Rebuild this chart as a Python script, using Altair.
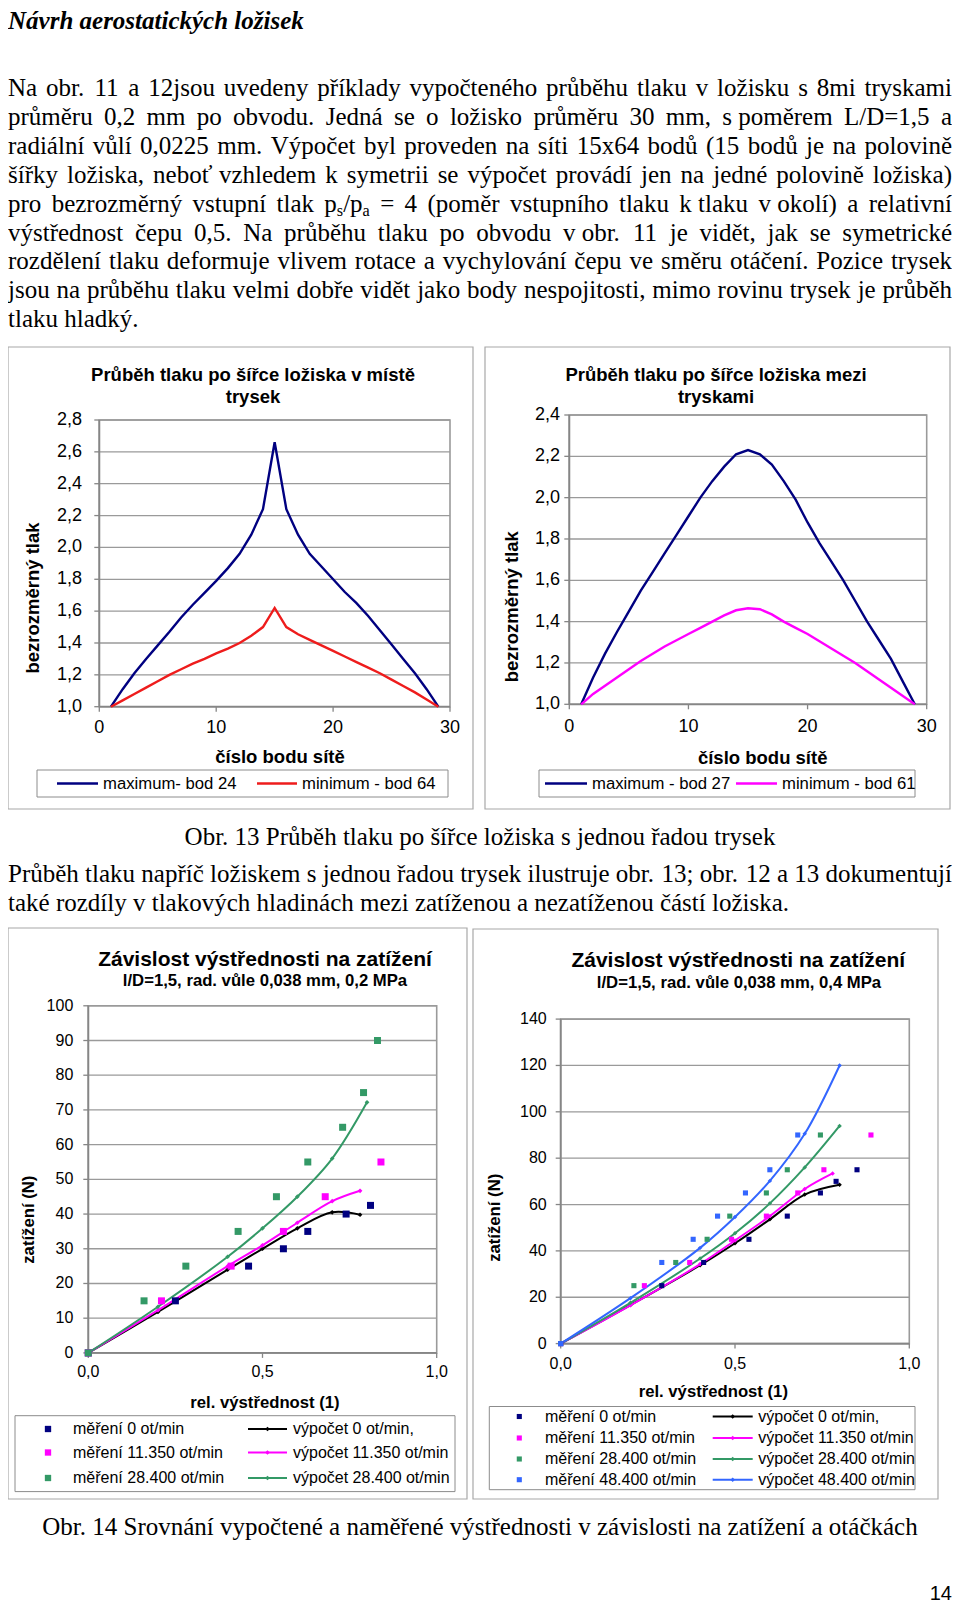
import re
import unicodedata
import altair as alt
import pandas as pd

# ---------------------------------------------------------------- data
# Obr. 13 vlevo: průběh tlaku po šířce ložiska v místě trysek
o13a_x = list(range(1, 30))
o13a_max = [1.00, 1.11, 1.21, 1.30, 1.385, 1.47, 1.56, 1.64, 1.715, 1.79, 1.87, 1.96, 2.08, 2.24, 2.66,
            2.24, 2.08, 1.96, 1.88, 1.80, 1.72, 1.65, 1.57, 1.48, 1.39, 1.30, 1.21, 1.11, 1.00]
o13a_min = [1.00, 1.04, 1.08, 1.12, 1.16, 1.20, 1.235, 1.27, 1.30, 1.335, 1.365, 1.40, 1.445, 1.50, 1.62,
            1.50, 1.455, 1.42, 1.385, 1.35, 1.315, 1.28, 1.245, 1.21, 1.17, 1.13, 1.09, 1.045, 1.00]
# Obr. 13 vpravo: mezi tryskami
o13b_x = list(range(1, 30))
o13b_max = [1.00, 1.13, 1.245, 1.35, 1.45, 1.55, 1.64, 1.73, 1.82, 1.91, 2.00, 2.08, 2.15, 2.21, 2.23,
            2.21, 2.16, 2.08, 1.99, 1.88, 1.78, 1.69, 1.60, 1.50, 1.40, 1.31, 1.22, 1.11, 1.00]
o13b_min = [1.00, 1.05, 1.09, 1.13, 1.17, 1.21, 1.245, 1.28, 1.31, 1.34, 1.37, 1.40, 1.43, 1.455, 1.465,
            1.46, 1.435, 1.40, 1.37, 1.34, 1.305, 1.27, 1.235, 1.20, 1.16, 1.12, 1.08, 1.04, 1.00]

# Obr. 14 vlevo (0,2 MPa)
a_m0_x = [0, 0.25, 0.46, 0.56, 0.63, 0.74, 0.81]
a_m0_y = [0, 15, 25, 30, 35, 40, 42.5]
a_m1_x = [0, 0.21, 0.41, 0.56, 0.68, 0.84]
a_m1_y = [0, 15, 25, 35, 45, 55]
a_m2_x = [0, 0.16, 0.28, 0.43, 0.54, 0.63, 0.73, 0.79, 0.83]
a_m2_y = [0, 15, 25, 35, 45, 55, 65, 75, 90]
a_c0_x = [0, 0.2, 0.4, 0.5, 0.6, 0.7, 0.78]
a_c0_y = [0, 11.8, 24.0, 30.0, 35.9, 40.5, 39.8]
a_c1_x = [0, 0.2, 0.4, 0.5, 0.6, 0.7, 0.78]
a_c1_y = [0, 12.3, 25.0, 31.0, 37.5, 43.7, 46.7]
a_c2_x = [0, 0.2, 0.4, 0.5, 0.6, 0.7, 0.8]
a_c2_y = [0, 13.3, 27.7, 35.9, 45.0, 56.0, 72.2]

# Obr. 14 vpravo (0,4 MPa)
b_m0_x = [0, 0.29, 0.41, 0.54, 0.65, 0.745, 0.79, 0.85]
b_m0_y = [0, 25, 35, 45, 55, 65, 70, 75]
b_m1_x = [0, 0.24, 0.37, 0.49, 0.59, 0.68, 0.755, 0.89]
b_m1_y = [0, 25, 35, 45, 55, 65, 75, 90]
b_m2_x = [0, 0.21, 0.33, 0.42, 0.485, 0.59, 0.65, 0.745]
b_m2_y = [0, 25, 35, 45, 55, 65, 75, 90]
b_m3_x = [0, 0.29, 0.38, 0.45, 0.53, 0.60, 0.68]
b_m3_y = [0, 35, 45, 55, 65, 75, 90]
b_c0_x = [0, 0.2, 0.4, 0.5, 0.6, 0.7, 0.8]
b_c0_y = [0, 16.6, 33.8, 43.3, 53.6, 64.3, 68.5]
b_c1_x = [0, 0.2, 0.4, 0.5, 0.6, 0.7, 0.78]
b_c1_y = [0, 16.5, 34.3, 44.5, 55.0, 66.7, 73.4]
b_c2_x = [0, 0.2, 0.4, 0.5, 0.6, 0.7, 0.8]
b_c2_y = [0, 17.6, 36.7, 47.6, 60.5, 76.0, 93.9]
b_c3_x = [0, 0.2, 0.4, 0.5, 0.6, 0.7, 0.8]
b_c3_y = [0, 19.6, 41.3, 54.6, 70.2, 90.5, 120.0]

# tick values
t13a_y = [1.0, 1.2, 1.4, 1.6, 1.8, 2.0, 2.2, 2.4, 2.6, 2.8]
t13b_y = [1.0, 1.2, 1.4, 1.6, 1.8, 2.0, 2.2, 2.4]
t13_x = [0, 10, 20, 30]
t14a_y = [0, 10, 20, 30, 40, 50, 60, 70, 80, 90, 100]
t14b_y = [0, 20, 40, 60, 80, 100, 120, 140]
t14_x = [0.0, 0.5, 1.0]

# texts
head_title = "Návrh aerostatických ložisek"
par1 = [
    "Na obr. 11 a 12jsou uvedeny příklady vypočteného průběhu tlaku v ložisku s 8mi tryskami",
    "průměru 0,2 mm po obvodu. Jedná se o ložisko průměru 30 mm, s\u00a0poměrem L/D=1,5 a",
    "radiální vůlí 0,0225 mm. Výpočet byl proveden na síti 15x64 bodů (15 bodů je na polovině",
    "šířky ložiska, neboť vzhledem k symetrii se výpočet provádí jen na jedné polovině ložiska)",
    "pro bezrozměrný vstupní tlak p{s}/p{a} = 4 (poměr vstupního tlaku k\u00a0tlaku v\u00a0okolí) a relativní",
    "výstřednost čepu 0,5. Na průběhu tlaku po obvodu v\u00a0obr. 11 je vidět, jak se symetrické",
    "rozdělení tlaku deformuje vlivem rotace a vychylování čepu ve směru otáčení. Pozice trysek",
    "jsou na průběhu tlaku velmi dobře vidět jako body nespojitosti, mimo rovinu trysek je průběh",
    "tlaku hladký.",
]
par2 = [
    "Průběh tlaku napříč ložiskem s jednou řadou trysek ilustruje obr. 13; obr. 12 a 13 dokumentují",
    "také rozdíly v tlakových hladinách mezi zatíženou a nezatíženou částí ložiska.",
]
cap13 = "Obr. 13 Průběh tlaku po šířce ložiska s jednou řadou trysek"
cap14 = "Obr. 14 Srovnání vypočtené a naměřené výstřednosti v závislosti na zatížení a otáčkách"
page_no = "14"

# ---------------------------------------------------------------- layout helpers
OX = OY = 8
W, H = 944, 1597
SANS = "Liberation Sans"
SERIF = "Liberation Serif"
NAVY, RED, MAG, GREEN, BLUE, BLACK = "#000080", "#ee1c1c", "#ff00ff", "#339966", "#3366ff", "#000000"
GRID, AXIS, FRAME, LBOX = "#9a9a9a", "#868686", "#a8a8a8", "#8c8c8c"


def P(x):
    return round(min(max(x - OX, 0), W), 2)


def Q(y):
    return round(y - OY, 2)


def one(**kw):
    return pd.DataFrame({k: [v] for k, v in kw.items()})


def box(x0, y0, x1, y1, stroke, sw=1.0, fill="white"):
    return alt.Chart(one(a=P(x0), b=P(x1), c=Q(y0), d=Q(y1))).mark_rect(
        fill=fill, stroke=stroke, strokeWidth=sw).encode(
        x=alt.X("a:Q", scale=None), x2="b:Q", y=alt.Y("c:Q", scale=None), y2="d:Q")


def labels(rows, **mk):
    d = pd.DataFrame(rows, columns=["x", "y", "t"])
    d["x"] = d["x"].map(P)
    d["y"] = d["y"].map(Q)
    return alt.Chart(d).mark_text(**mk).encode(
        x=alt.X("x:Q", scale=None), y=alt.Y("y:Q", scale=None), text="t:N")


def fmt1(v):
    return f"{v:.1f}".replace(".", ",")


def fmt0(v):
    return f"{v:g}"


def excel(xd, xr, yd, yr, yticks, xticks, ylab_right, xlab_y, tick_fs, yfmt, xfmt):
    sx = alt.Scale(domain=xd, range=[P(xr[0]), P(xr[1])], nice=False, zero=False)
    sy = alt.Scale(domain=yd, range=[Q(yr[0]), Q(yr[1])], nice=False, zero=False)
    L = [box(xr[0], yr[1], xr[1], yr[0], GRID, 1.6)]
    gy = pd.DataFrame({"v": yticks, "t": [yfmt(v) for v in yticks]})
    gx = pd.DataFrame({"v": xticks, "t": [xfmt(v) for v in xticks]})
    L.append(alt.Chart(gy).mark_rule(color=GRID, strokeWidth=1.3).encode(
        y=alt.Y("v:Q", scale=sy, axis=None), x=alt.value(P(xr[0])), x2=alt.value(P(xr[1]))))
    L.append(alt.Chart(gy).mark_rule(color=AXIS, strokeWidth=1.3).encode(
        y=alt.Y("v:Q", scale=sy, axis=None), x=alt.value(P(xr[0]) - 5), x2=alt.value(P(xr[0]))))
    L.append(alt.Chart(gx).mark_rule(color=AXIS, strokeWidth=1.3).encode(
        x=alt.X("v:Q", scale=sx, axis=None), y=alt.value(Q(yr[0])), y2=alt.value(Q(yr[0]) + 5)))
    axes = pd.DataFrame({"a": [P(xr[0]), P(xr[0])], "b": [P(xr[0]), P(xr[1])],
                         "c": [Q(yr[1]), Q(yr[0])], "d": [Q(yr[0]), Q(yr[0])]})
    L.append(alt.Chart(axes).mark_rule(color=AXIS, strokeWidth=1.8).encode(
        x=alt.X("a:Q", scale=None), x2="b:Q", y=alt.Y("c:Q", scale=None), y2="d:Q"))
    L.append(alt.Chart(gy).mark_text(font=SANS, fontSize=tick_fs, align="right", baseline="middle").encode(
        y=alt.Y("v:Q", scale=sy, axis=None), x=alt.value(P(ylab_right)), text="t:N"))
    L.append(alt.Chart(gx).mark_text(font=SANS, fontSize=tick_fs, align="center", baseline="middle").encode(
        x=alt.X("v:Q", scale=sx, axis=None), y=alt.value(Q(xlab_y)), text="t:N"))
    return sx, sy, L


def sline(sx, sy, xs, ys, color, sw, interp="linear"):
    return alt.Chart(pd.DataFrame({"x": xs, "y": ys})).mark_line(
        color=color, strokeWidth=sw, interpolate=interp).encode(
        x=alt.X("x:Q", scale=sx, axis=None), y=alt.Y("y:Q", scale=sy, axis=None))


def spts(sx, sy, xs, ys, color, shape, size):
    return alt.Chart(pd.DataFrame({"x": xs, "y": ys})).mark_point(
        shape=shape, filled=True, size=size, color=color, opacity=1, strokeWidth=0).encode(
        x=alt.X("x:Q", scale=sx, axis=None), y=alt.Y("y:Q", scale=sy, axis=None))


def leg_lines(rows, sw):
    d = pd.DataFrame(rows, columns=["a", "b", "c", "col"])
    d["a"] = d["a"].map(P)
    d["b"] = d["b"].map(P)
    d["c"] = d["c"].map(Q)
    return alt.Chart(d).mark_rule(strokeWidth=sw).encode(
        x=alt.X("a:Q", scale=None), x2="b:Q", y=alt.Y("c:Q", scale=None),
        color=alt.Color("col:N", scale=None))


def leg_pts(rows, shape, size):
    d = pd.DataFrame(rows, columns=["x", "y", "col"])
    d["x"] = d["x"].map(P)
    d["y"] = d["y"].map(Q)
    return alt.Chart(d).mark_point(shape=shape, filled=True, size=size, opacity=1, strokeWidth=0).encode(
        x=alt.X("x:Q", scale=None), y=alt.Y("y:Q", scale=None), color=alt.Color("col:N", scale=None))


# Times New Roman advance widths (em), Liberation Serif is metric compatible
TW = {" ": .25, "\u00a0": .25, "!": .333, "(": .333, ")": .333, ",": .25, "-": .333, ".": .25,
      "/": .278, ":": .278, ";": .278, "=": .564,
      "A": .722, "B": .667, "C": .667, "D": .722, "E": .611, "F": .556, "G": .722, "H": .722, "I": .333,
      "J": .389, "K": .722, "L": .611, "M": .889, "N": .722, "O": .722, "P": .556, "Q": .722, "R": .667,
      "S": .556, "T": .611, "U": .722, "V": .722, "W": .944, "X": .722, "Y": .722, "Z": .611,
      "a": .444, "b": .5, "c": .444, "d": .5, "e": .444, "f": .333, "g": .5, "h": .5, "i": .278, "j": .278,
      "k": .5, "l": .278, "m": .778, "n": .5, "o": .5, "p": .5, "q": .5, "r": .333, "s": .389, "t": .278,
      "u": .5, "v": .5, "w": .722, "x": .5, "y": .5, "z": .444, "ť": .33}
SUB = 0.65
SUBDY = 4


def cw(c):
    if c in TW:
        return TW[c]
    if c.isdigit():
        return .5
    b = unicodedata.normalize("NFD", c)[0]
    return TW.get(b, .5)


def segs(word):
    out = []
    for m in re.finditer(r"\{([^}]*)\}|([^{]+)", word):
        if m.group(1) is not None:
            out.append((m.group(1), True))
        else:
            out.append((m.group(2), False))
    return out


def seg_w(t, sub, fs):
    return sum(cw(c) for c in t) * fs * (SUB if sub else 1)


def set_line(line, x0, x1, base, fs, justify, left_rows, right_rows):
    words = line.split(" ")
    ws = [sum(seg_w(t, s, fs) for t, s in segs(w)) for w in words]
    gap = (x1 - x0 - sum(ws)) / (len(words) - 1) if (justify and len(words) > 1) else cw(" ") * fs
    x = x0
    for i, (w, wd) in enumerate(zip(words, ws)):
        if justify and i == len(words) - 1 and len(words) > 1:
            right_rows.append((x1, base, w, fs))
            break
        xx = x
        for t, s in segs(w):
            left_rows.append((xx, base + (SUBDY if s else 0), t, fs * (SUB if s else 1)))
            xx += seg_w(t, s, fs)
        x += wd + gap


def body_layer(rows, align):
    d = pd.DataFrame(rows, columns=["x", "y", "t", "s"])
    return alt.Chart(d).mark_text(font=SERIF, align=align, baseline="alphabetic", color="black").encode(
        x=alt.X("x:Q", scale=None), y=alt.Y("y:Q", scale=None), text="t:N",
        size=alt.Size("s:Q", scale=None))


layers = []

# ---------------------------------------------------------------- page text
FS = 25
lrows, rrows = [], []
c1 = [88, 117, 146, 175, 204, 232.5, 261, 290, 319]
for i, ln in enumerate(par1):
    set_line(ln, 0, W, Q(c1[i] + 8), FS, i < len(par1) - 1, lrows, rrows)
c2 = [874, 903]
for i, ln in enumerate(par2):
    set_line(ln, 0, W, Q(c2[i] + 8), FS, i < len(par2) - 1, lrows, rrows)
layers.append(body_layer(lrows, "left"))
layers.append(body_layer(rrows, "right"))
layers.append(labels([(8, 29, head_title)], font=SERIF, fontSize=25, fontWeight="bold",
                     fontStyle="italic", align="left", baseline="alphabetic"))
layers.append(labels([(480, 845, cap13), (480, 1535, cap14)], font=SERIF, fontSize=25,
                     align="center", baseline="alphabetic"))
layers.append(labels([(952, 1600, page_no)], font="Liberation Sans Narrow, Liberation Sans", fontSize=20,
                     align="right", baseline="alphabetic"))

# ---------------------------------------------------------------- Obr. 13 left
layers.append(box(8, 347, 473, 809, FRAME, 1.2))
sx, sy, L = excel([0, 30], [99.3, 450], [1.0, 2.8], [706.7, 420], t13a_y, t13_x, 82, 728, 18, fmt1, fmt0)
layers += L
layers.append(sline(sx, sy, o13a_x, o13a_max, NAVY, 2.4))
layers.append(sline(sx, sy, o13a_x, o13a_min, RED, 2.4))
layers.append(labels([(253, 375, "Průběh tlaku po šířce ložiska v místě"), (253, 397, "trysek"),
                      (280, 757, "číslo bodu sítě")],
                     font=SANS, fontSize=18.5, fontWeight="bold", align="center", baseline="middle"))
layers.append(labels([(33, 598, "bezrozměrný tlak")], font=SANS, fontSize=18.5, fontWeight="bold",
                     align="center", baseline="middle", angle=270))
layers.append(box(37, 770, 448, 797, LBOX, 1.0))
layers.append(leg_lines([(57, 98, 783.5, NAVY), (257, 297, 783.5, RED)], 2.4))
layers.append(labels([(103, 783.5, "maximum- bod 24"), (302, 783.5, "minimum - bod 64")],
                     font=SANS, fontSize=16.7, align="left", baseline="middle"))

# ---------------------------------------------------------------- Obr. 13 right
layers.append(box(485, 347, 950, 809, FRAME, 1.2))
sx, sy, L = excel([0, 30], [569.3, 926.7], [1.0, 2.4], [704.3, 415], t13b_y, t13_x, 560, 726.7, 18, fmt1, fmt0)
layers += L
layers.append(sline(sx, sy, o13b_x, o13b_max, NAVY, 2.4))
layers.append(sline(sx, sy, o13b_x, o13b_min, MAG, 2.4))
layers.append(labels([(716, 375, "Průběh tlaku po šířce ložiska mezi"), (716, 397, "tryskami"),
                      (762.7, 758, "číslo bodu sítě")],
                     font=SANS, fontSize=18.5, fontWeight="bold", align="center", baseline="middle"))
layers.append(labels([(511.7, 606.7, "bezrozměrný tlak")], font=SANS, fontSize=18.5, fontWeight="bold",
                     align="center", baseline="middle", angle=270))
layers.append(box(539, 770, 915, 797, LBOX, 1.0))
layers.append(leg_lines([(545, 587, 783.5, NAVY), (736, 777, 783.5, MAG)], 2.4))
layers.append(labels([(592, 783.5, "maximum - bod 27"), (782, 783.5, "minimum - bod 61")],
                     font=SANS, fontSize=16.7, align="left", baseline="middle"))

# ---------------------------------------------------------------- Obr. 14 left
layers.append(box(8, 928, 467, 1499, FRAME, 1.2))
sx, sy, L = excel([0, 1], [88.3, 436.7], [0, 100], [1352.9, 1005.8], t14a_y, t14_x, 73.3, 1372, 16, fmt0, fmt1)
layers += L
for xs, ys, col in [(a_c0_x, a_c0_y, BLACK), (a_c1_x, a_c1_y, MAG), (a_c2_x, a_c2_y, GREEN)]:
    layers.append(sline(sx, sy, xs, ys, col, 2, "catmull-rom"))
    layers.append(spts(sx, sy, xs, ys, col, "diamond", 22))
for xs, ys, col in [(a_m0_x, a_m0_y, NAVY), (a_m1_x, a_m1_y, MAG), (a_m2_x, a_m2_y, GREEN)]:
    layers.append(spts(sx, sy, xs, ys, col, "square", 49))
layers.append(labels([(265, 960, "Závislost výstřednosti na zatížení")], font=SANS, fontSize=21,
                     fontWeight="bold", align="center", baseline="middle"))
layers.append(labels([(265, 981, "l/D=1,5, rad. vůle 0,038 mm, 0,2 MPa"), (265, 1402.8, "rel. výstřednost (1)")],
                     font=SANS, fontSize=16.7, fontWeight="bold", align="center", baseline="middle"))
layers.append(labels([(29, 1219.7, "zatížení (N)")], font=SANS, fontSize=16.7, fontWeight="bold",
                     align="center", baseline="middle", angle=270))
layers.append(box(15, 1415.7, 455, 1491.6, LBOX, 1.0))
ra = [1429, 1452.5, 1478]
layers.append(leg_lines([(248, 287, ra[0], BLACK), (248, 287, ra[1], MAG), (248, 287, ra[2], GREEN)], 2))
layers.append(leg_pts([(267.5, ra[0], BLACK), (267.5, ra[1], MAG), (267.5, ra[2], GREEN)], "diamond", 22))
layers.append(leg_pts([(48, ra[0], NAVY), (48, ra[1], MAG), (48, ra[2], GREEN)], "square", 40))
layers.append(labels([(73, ra[0], "měření 0 ot/min"), (73, ra[1], "měření 11.350 ot/min"),
                      (73, ra[2], "měření 28.400 ot/min"),
                      (293, ra[0], "výpočet 0 ot/min,"), (293, ra[1], "výpočet 11.350 ot/min"),
                      (293, ra[2], "výpočet 28.400 ot/min")],
                     font=SANS, fontSize=16, align="left", baseline="middle"))

# ---------------------------------------------------------------- Obr. 14 right
layers.append(box(473, 929, 938, 1499, FRAME, 1.2))
sx, sy, L = excel([0, 1], [560.7, 909.3], [0, 140], [1343.6, 1019.1], t14b_y, t14_x, 546.7, 1364, 16, fmt0, fmt1)
layers += L
for xs, ys, col in [(b_c0_x, b_c0_y, BLACK), (b_c1_x, b_c1_y, MAG), (b_c2_x, b_c2_y, GREEN),
                    (b_c3_x, b_c3_y, BLUE)]:
    layers.append(sline(sx, sy, xs, ys, col, 2, "catmull-rom"))
    layers.append(spts(sx, sy, xs, ys, col, "diamond", 20))
for xs, ys, col in [(b_m0_x, b_m0_y, NAVY), (b_m1_x, b_m1_y, MAG), (b_m2_x, b_m2_y, GREEN),
                    (b_m3_x, b_m3_y, BLUE)]:
    layers.append(spts(sx, sy, xs, ys, col, "square", 26))
layers.append(labels([(738.3, 960.7, "Závislost výstřednosti na zatížení")], font=SANS, fontSize=21,
                     fontWeight="bold", align="center", baseline="middle"))
layers.append(labels([(739, 983, "l/D=1,5, rad. vůle 0,038 mm, 0,4 MPa"), (713.3, 1391.7, "rel. výstřednost (1)")],
                     font=SANS, fontSize=16.7, fontWeight="bold", align="center", baseline="middle"))
layers.append(labels([(495, 1217.8, "zatížení (N)")], font=SANS, fontSize=16.7, fontWeight="bold",
                     align="center", baseline="middle", angle=270))
layers.append(box(489.3, 1406.5, 915, 1489.7, LBOX, 1.0))
rb = [1416.5, 1438, 1459, 1479.7]
cols = [BLACK, MAG, GREEN, BLUE]
layers.append(leg_lines([(712.7, 752.7, rb[i], cols[i]) for i in range(4)], 2))
layers.append(leg_pts([(732.7, rb[i], cols[i]) for i in range(4)], "diamond", 20))
layers.append(leg_pts([(519.3, rb[i], c) for i, c in enumerate([NAVY, MAG, GREEN, BLUE])], "square", 26))
layers.append(labels([(545, rb[0], "měření 0 ot/min"), (545, rb[1], "měření 11.350 ot/min"),
                      (545, rb[2], "měření 28.400 ot/min"), (545, rb[3], "měření 48.400 ot/min"),
                      (758.3, rb[0], "výpočet 0 ot/min,"), (758.3, rb[1], "výpočet 11.350 ot/min"),
                      (758.3, rb[2], "výpočet 28.400 ot/min"), (758.3, rb[3], "výpočet 48.400 ot/min")],
                     font=SANS, fontSize=16, align="left", baseline="middle"))

chart = alt.layer(*layers).resolve_scale(x="independent", y="independent").properties(
    width=W, height=H, padding=0, autosize=alt.AutoSizeParams(type="none"),
    background="white").configure_view(stroke=None)

chart.save("out.html", embed_options={"renderer": "svg", "actions": False})
